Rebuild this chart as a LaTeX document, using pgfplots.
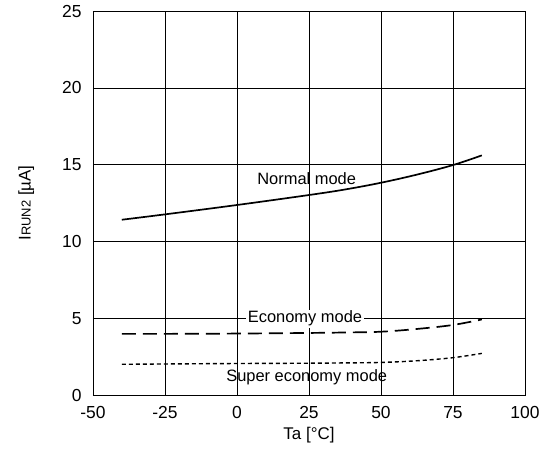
\documentclass[border=0pt]{standalone}
\usepackage{fontspec}
\setmainfont{Liberation Sans}
\usepackage{pgfplots}
\pgfplotsset{compat=1.18}
\begin{document}
\begin{tikzpicture}
\begin{axis}[
  scale only axis,
  width=432bp, height=384bp,
  xmin=-50, xmax=100, ymin=0, ymax=25,
  xtick={-50,-25,0,25,50,75,100},
  ytick={0,5,10,15,20,25},
  grid=major,
  major grid style={black, line width=0.6pt},
  axis line style={black, line width=0.9pt},
  tick style={draw=none},
  /pgf/number format/assume math mode=true,
  ticklabel style={font=\fontsize{17.5}{20}\selectfont},
  xticklabel style={yshift=-8bp},
  yticklabel style={xshift=-8bp},
  xlabel={Ta [°C]},
  ylabel={I{\fontsize{13}{15}\selectfont RUN2} [µA]},
  label style={font=\fontsize{17}{20}\selectfont},
  xlabel style={yshift=-2bp},
  ylabel style={yshift=21bp},
  clip=false,
]
\coordinate (sw) at (rel axis cs:0,0);
\coordinate (ne) at (rel axis cs:1,1);
\addplot[black, line width=1.7pt, smooth, tension=0.6] coordinates {
  (-40,11.41) (-25,11.76) (0,12.37) (25,13.02) (37.5,13.38) (50,13.82) (62.5,14.35) (75,14.97) (85,15.6)};
\addplot[black, line width=1.7pt, dash pattern=on 14bp off 7bp, smooth, tension=0.6] coordinates {
  (-40,3.98) (-25,3.98) (0,4.0) (25,4.04) (37.5,4.07) (50,4.12) (62.5,4.3) (75,4.56) (85,4.92)};
\addplot[black, line width=1.4pt, dash pattern=on 4bp off 3bp, smooth, tension=0.6] coordinates {
  (-40,2.0) (-25,2.02) (0,2.05) (25,2.07) (37.5,2.09) (50,2.12) (62.5,2.23) (75,2.43) (85,2.71)};
\node[font=\fontsize{16.5}{19}\selectfont] at (axis cs:24.2,14.1) {Normal mode};
\node[font=\fontsize{16.5}{19}\selectfont, fill=white, inner sep=1.5bp] at (axis cs:23.6,4.97) {Economy mode};
\node[font=\fontsize{16.5}{19}\selectfont] at (axis cs:24.2,1.13) {Super economy mode};
\end{axis}
\pgfresetboundingbox
\path ([xshift=-93bp,yshift=-58bp]sw) rectangle ([xshift=27bp,yshift=11bp]ne);
\end{tikzpicture}
\end{document}
